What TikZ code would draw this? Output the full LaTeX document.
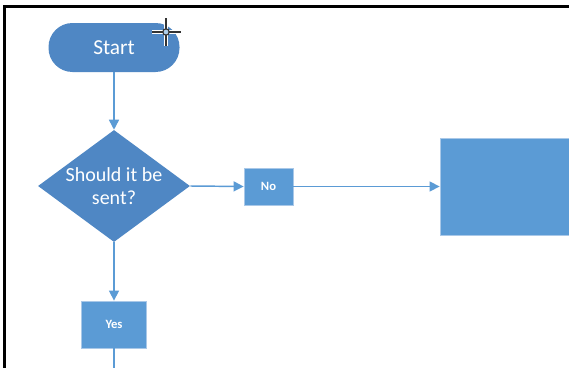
\documentclass[tikz,border=0pt]{standalone}
\usepackage{fontspec}
\setmainfont{Carlito}
\usetikzlibrary{shapes.geometric,arrows.meta}
\definecolor{flowblue}{HTML}{5B9BD5}
\definecolor{darkblue}{HTML}{4F87C4}
\definecolor{edgeblue}{HTML}{A9C8E8}
\begin{document}
\begin{tikzpicture}[x=0.75pt,y=-0.75pt,
  terminal/.style={draw=none, fill=darkblue, rounded corners=18pt, minimum width=98.25pt, minimum height=36.75pt, inner sep=0pt, text=white, font=\fontsize{16}{19}\selectfont},
  decision/.style={diamond, fill=darkblue, aspect=1.357, inner sep=0pt, minimum width=114pt, minimum height=84pt, text=white, align=center, font=\fontsize{15}{17.5}\selectfont},
  box/.style={fill=flowblue, draw=edgeblue, line width=0.6pt, inner sep=0pt, text=white, font=\bfseries\fontsize{9.5}{12}\selectfont},
  flow/.style={draw=flowblue, line width=1.1pt},
  arr/.style={flow, -{Triangle[width=7.5pt,length=7.5pt]}}
]
\useasboundingbox (0,0) rectangle (569,368);
\clip (0,0) rectangle (569,368);
\fill[white] (0,0) rectangle (569,368);
\draw[line width=1.8pt] (4.5,368) -- (4.5,6.5) -- (569,6.5);

\node[terminal] (start) at (114,47.5) {Start};
\node[decision] (dec) at (114,186) {Should it be\\sent?};
\node[box, minimum width=36.75pt, minimum height=27.75pt] (no) at (268.5,186.5) {No};
\node[box, minimum width=48.75pt, minimum height=35.25pt] (yes) at (114,324.5) {Yes};
\node[box, minimum width=120pt, minimum height=72.75pt] (proc) at (520,186.5) {};
\coordinate (out) at (114,372);

\draw[arr] (start.south) -- (dec.north);
\draw[arr] (dec.east) -- (no.west);
\draw[arr] (no.east) -- (proc.west);
\draw[arr] (dec.south) -- (yes.north);
\draw[flow] (yes.south) -- (out);

% mouse cursor
\draw[white, line width=3pt] (152,32) -- (181,32) (166,18) -- (166,46);
\draw[black!80, line width=1.1pt] (152,32) -- (181,32) (166,18) -- (166,46);
\draw[black!80, fill=flowblue!50, line width=0.9pt] (166,32) circle (3.2);
\end{tikzpicture}
\end{document}
